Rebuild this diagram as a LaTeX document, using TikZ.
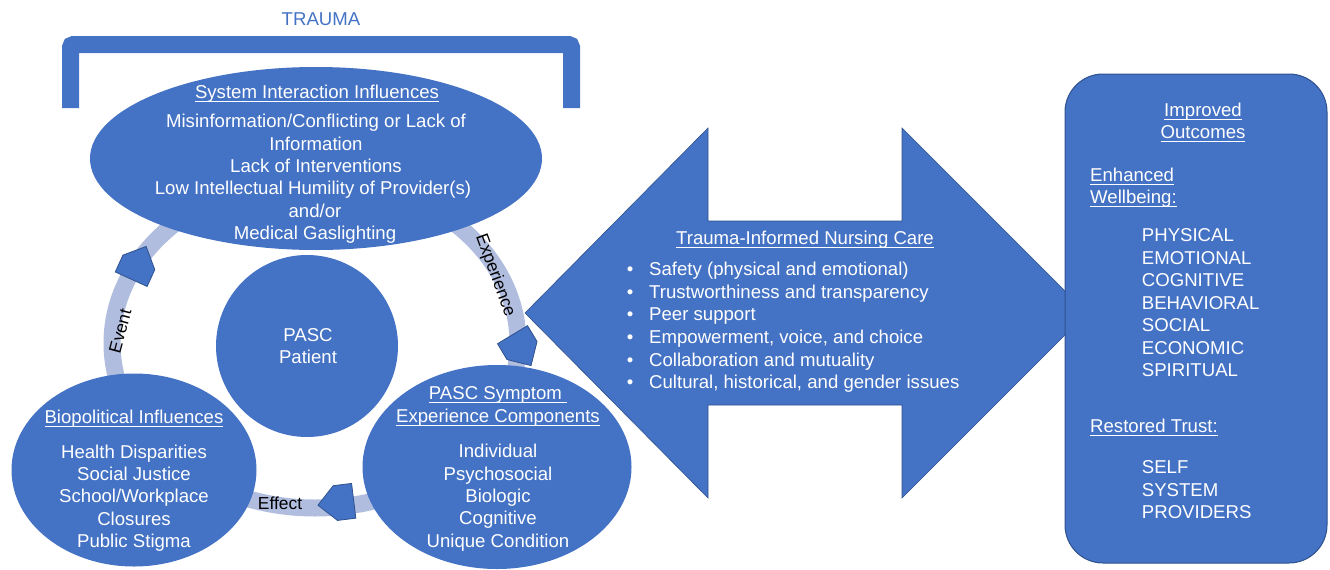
\documentclass[tikz,border=0pt]{standalone}
\usepackage{fontspec}
\setmainfont{Liberation Sans}
\usetikzlibrary{shapes.geometric}
\definecolor{boxblue}{HTML}{4472C4}
\definecolor{edgeblue}{HTML}{2F528F}
\definecolor{ringblue}{RGB}{176,189,223}
\newcommand{\bodyfont}{\fontsize{18.6pt}{22.5pt}\selectfont}
\newcommand{\tagfont}{\fontsize{17.4pt}{20pt}\selectfont}
% underline at a fixed depth below the baseline
\newsavebox{\ulnbox}
\newcommand{\uln}[1]{\sbox{\ulnbox}{#1}\rlap{\rule[-3.7pt]{\wd\ulnbox}{1.1pt}}\usebox{\ulnbox}}

\begin{document}
\begin{tikzpicture}[x=1pt,y=-1pt,
  blob/.style={fill=boxblue, draw=none, inner sep=0pt},
  oval/.style={blob, ellipse},
  wt/.style={font=\bodyfont, text=white, inner sep=0pt, anchor=base},
  wtl/.style={wt, anchor=base west},
  tag/.style={font=\tagfont, text=black, inner sep=0pt, text height=12.4pt, text depth=0pt},
  pent/.pic={\draw[fill=boxblue, draw=edgeblue, line width=0.8pt]
    (0,-17.5) -- (18.5,-17.5) -- (36,0) -- (18.5,17.5) -- (0,17.5) -- cycle;}
]
\useasboundingbox (0,0) rectangle (1330,570);

% cycle ring behind the four circles
\coordinate (ringc) at (315,343);
\draw[ringblue, line width=17pt] (ringc) ellipse [x radius=203, y radius=165];

% trauma bracket
\node[font=\bodyfont, text=boxblue, inner sep=0pt, anchor=base] (trauma) at (321,25) {TRAUMA};
\draw[boxblue, line width=17pt, rounded corners=3pt]
  (70.5,108) -- (70.5,44.5) -- (571.5,44.5) -- (571.5,108);

% double-headed block arrow
\coordinate (care) at (805,313);
\draw[fill=boxblue, draw=edgeblue, line width=0.6pt]
  (525,313) -- (708,128) -- (708,221) -- (902,221) -- (902,128) -- (1087,313)
  -- (902,498) -- (902,405) -- (708,405) -- (708,498) -- cycle;

% main shapes
\node[oval, minimum width=452, minimum height=183] (sys) at (316,158.5) {};
\node[blob, circle, minimum size=182] (pat) at (307,346) {};
\node[oval, minimum width=245, minimum height=193] (bio) at (134,470) {};
\node[oval, minimum width=269, minimum height=204] (sym) at (497,467) {};
\node[blob, draw=edgeblue, line width=1pt, rounded corners=38pt,
      minimum width=262, minimum height=489] (out) at (1196,318.5) {};

% arrowheads on the ring
\pic[rotate=65.5] at (131.2,279.2) {pent};
\pic[rotate=-59] at (512.5,334.7) {pent};
\pic[rotate=187] at (353.7,500.8) {pent};

% ring labels
\node[tag, rotate=75] (evt) at (120,331) {Event};
\node[tag, rotate=-70] (exp) at (496.7,275) {Experience};
\node[tag] (eff) at (280,503) {Effect};

% system interaction influences
\node[wt] (sys-h) at (317,98.6) {\uln{System Interaction Influences}};
\node[wt] (sys-1) at (316,127.6) {Misinformation/Conflicting or Lack of};
\node[wt] (sys-2) at (316,150.0) {Information};
\node[wt] (sys-3) at (316,172.4) {Lack of Interventions};
\node[wt] (sys-4) at (313,194.8) {Low Intellectual Humility of Provider(s)};
\node[wt] (sys-5) at (315,217.2) {and/or};
\node[wt] (sys-6) at (315,239.6) {Medical Gaslighting};

% patient
\node[wt] (pat-1) at (308,341.6) {PASC};
\node[wt] (pat-2) at (308,363.6) {Patient};

% biopolitical influences
\node[wt] (bio-h) at (134,423.3) {\uln{Biopolitical Influences}};
\foreach \s [count=\i] in {Health Disparities, Social Justice, School/Workplace,
    Closures, Public Stigma}
  \node[wt, name=bio-\i] at (134, {458.3+22.3*(\i-1)}) {\s};

% symptom experience components
\node[wt] (sym-h1) at (498,399.6) {\uln{PASC Symptom\ }};
\node[wt] (sym-h2) at (498,422.6) {\uln{Experience Components}};
\foreach \s [count=\i] in {Individual, Psychosocial, Biologic, Cognitive,
    Unique Condition}
  \node[wt, name=sym-\i] at (498, {457.6+22.4*(\i-1)}) {\s};

% trauma-informed nursing care
\node[wt] (care-h) at (805,244.6) {\uln{Trauma-Informed Nursing Care}};
\foreach \s [count=\i] in {{Safety (physical and emotional)},
    {Trustworthiness and transparency}, {Peer support},
    {Empowerment, voice, and choice}, {Collaboration and mutuality},
    {Cultural, historical, and gender issues}} {
  \node[wt, name=dot-\i] at (630, {275.6+22.6*(\i-1)}) {\textbullet};
  \node[wtl, name=care-\i] at (649, {275.6+22.6*(\i-1)}) {\s};
}

% improved outcomes
\node[wt] (out-h1) at (1203,116.6) {\uln{Improved}};
\node[wt] (out-h2) at (1203,138.3) {\uln{Outcomes}};
\node[wtl] (wb-h1) at (1090,181.6) {\uln{Enhanced}};
\node[wtl] (wb-h2) at (1090,203.3) {\uln{Wellbeing:}};
\foreach \s [count=\i] in {PHYSICAL, EMOTIONAL, COGNITIVE, BEHAVIORAL, SOCIAL,
    ECONOMIC, SPIRITUAL}
  \node[wtl, name=wb-\i] at (1141.7, {241.6+22.5*(\i-1)}) {\s};
\node[wtl] (tr-h) at (1090,432.6) {\uln{Restored Trust:}};
\foreach \s [count=\i] in {SELF, SYSTEM, PROVIDERS}
  \node[wtl, name=tr-\i] at (1141.7, {473.9+22.2*(\i-1)}) {\s};

\end{tikzpicture}
\end{document}
